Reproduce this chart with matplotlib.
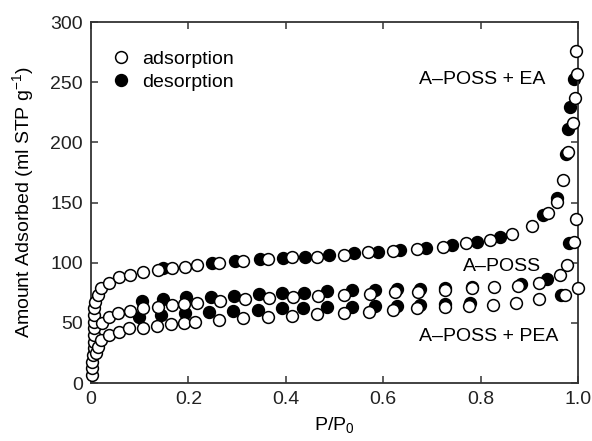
import matplotlib
matplotlib.use("Agg")
from matplotlib import pyplot as plt
from matplotlib.lines import Line2D

plt.rcParams["font.family"] = ["Liberation Sans", "DejaVu Sans"]
plt.rcParams["mathtext.fontset"] = "custom"
plt.rcParams["mathtext.rm"] = "Liberation Sans"
plt.rcParams["mathtext.it"] = "Liberation Sans"

# A-POSS + EA (top curve)
ea_ads_x = [0.003, 0.003, 0.003, 0.004, 0.006, 0.006, 0.006, 0.006, 0.006, 0.006, 0.006, 0.009,
            0.014, 0.02, 0.038, 0.058, 0.081, 0.107, 0.138, 0.166, 0.193, 0.217, 0.263, 0.313,
            0.364, 0.413, 0.465, 0.52, 0.569, 0.62, 0.669, 0.723, 0.771, 0.819, 0.864, 0.905,
            0.939, 0.956, 0.97, 0.98, 0.99, 0.994, 0.997, 0.996]
ea_ads_y = [6.6, 12.2, 17.7, 23.3, 28.8, 34.3, 39.9, 45.5, 51, 56.5, 62, 67.6,
            73.2, 78.7, 82.8, 87.8, 89.8, 92.5, 93.9, 95.6, 96.7, 97.8, 99.5, 101.4,
            102.8, 104.5, 105, 106.4, 108.6, 109.7, 111.1, 113.3, 116.1, 118.9, 123.6, 130.5,
            141, 150.7, 168.7, 192.3, 215.8, 236.7, 257, 276]
ea_des_x = [0.992, 0.984, 0.98, 0.976, 0.956, 0.929, 0.84, 0.792, 0.741, 0.687, 0.634, 0.59,
            0.54, 0.489, 0.44, 0.394, 0.347, 0.296, 0.248, 0.148]
ea_des_y = [252.4, 229, 211, 190, 153.5, 139.7, 121.1, 117.5, 114.7, 112, 110.5, 109.1,
            107.8, 106, 105, 103.6, 102.8, 101.4, 99.5, 95.3]

# A-POSS (middle curve)
ap_ads_x = [0.022, 0.038, 0.055, 0.08, 0.107, 0.137, 0.166, 0.19, 0.217, 0.265, 0.316, 0.366,
            0.415, 0.467, 0.52, 0.573, 0.624, 0.672, 0.727, 0.782, 0.828, 0.877, 0.92, 0.963,
            0.977, 0.992, 0.996]
ap_ads_y = [49.6, 55, 57.9, 60, 62, 63.4, 64.8, 65.7, 66.8, 68.4, 69.6, 70.4,
            71.2, 72.3, 73.2, 73.7, 75.9, 75.9, 77.3, 78.7, 79.5, 80.6, 83.4, 89.8,
            98, 117.5, 136]
ap_des_x = [0.982, 0.936, 0.882, 0.782, 0.727, 0.676, 0.628, 0.583, 0.535, 0.485, 0.437, 0.392,
            0.344, 0.294, 0.246, 0.195, 0.147, 0.104]
ap_des_y = [116.1, 86.3, 82.3, 79.5, 78.7, 77.9, 77.9, 77.3, 77.3, 76.5, 75, 74.5,
            73.7, 72.6, 71.7, 71.2, 69.8, 68.2]

# A-POSS + PEA (bottom curve)
pea_ads_x = [0.01, 0.014, 0.02, 0.038, 0.058, 0.079, 0.107, 0.136, 0.164, 0.19, 0.214, 0.263,
             0.313, 0.363, 0.413, 0.465, 0.52, 0.571, 0.621, 0.67, 0.726, 0.777, 0.825, 0.873,
             0.92, 0.973, 1.0]
pea_ads_y = [24.6, 30.2, 35.7, 39.9, 42.6, 45.5, 46, 47.4, 49, 50.1, 51, 52.4,
             53.8, 55.1, 56, 57.1, 57.9, 59.3, 60.7, 62, 62.9, 64, 64.8, 66.8,
             69.6, 73.2, 79.2]
pea_des_x = [0.966, 0.778, 0.727, 0.676, 0.628, 0.583, 0.535, 0.484, 0.435, 0.392, 0.342, 0.291,
             0.243, 0.193, 0.144, 0.099]
pea_des_y = [73.2, 66.2, 65.7, 64.8, 64, 64, 63.4, 62.9, 62, 62, 60.7, 59.9,
             58.8, 57.9, 56.5, 55.1]

fig = plt.figure(figsize=(5.92, 4.41), dpi=100)
ax = fig.add_axes([0.1537, 0.1315, 0.8227, 0.8186])

ms = 8.5
mew = 1.1
for dx, dy in [(ea_des_x, ea_des_y), (ap_des_x, ap_des_y), (pea_des_x, pea_des_y)]:
    ax.plot(dx, dy, "o", ms=ms, mfc="black", mec="black", mew=mew, clip_on=False, zorder=2)
for ox, oy in [(ea_ads_x, ea_ads_y), (ap_ads_x, ap_ads_y), (pea_ads_x, pea_ads_y)]:
    ax.plot(ox, oy, "o", ms=ms, mfc="white", mec="black", mew=mew, clip_on=False, zorder=3)

ax.set_xlim(0, 1.0)
ax.set_ylim(0, 300)
ax.set_xticks([0, 0.2, 0.4, 0.6, 0.8, 1.0])
ax.set_xticklabels(["0", "0.2", "0.4", "0.6", "0.8", "1.0"])
ax.set_yticks(range(0, 301, 50))
ax.tick_params(direction="in", top=True, right=True, length=5, width=1.1,
               labelsize=14, pad=6, color="#333333", labelcolor="#222222")
for s in ax.spines.values():
    s.set_linewidth(1.3)
    s.set_color("#333333")

ax.set_xlabel("P/P$_0$", fontsize=14, labelpad=5)
ax.set_ylabel("Amount Adsorbed (ml STP g$^{-1}$)", fontsize=14, labelpad=10)

ax.text(0.932, 252, "A\u2013POSS + EA", fontsize=14, ha="right", va="center")
ax.text(0.924, 97, "A\u2013POSS", fontsize=14, ha="right", va="center")
ax.text(0.96, 38.5, "A\u2013POSS + PEA", fontsize=14, ha="right", va="center")

handles = [
    Line2D([], [], ls="none", marker="o", ms=ms, mfc="white", mec="black", mew=mew),
    Line2D([], [], ls="none", marker="o", ms=ms, mfc="black", mec="black", mew=mew),
]
ax.legend(handles, ["adsorption", "desorption"], loc="upper left", frameon=False,
          fontsize=14, handletextpad=0.5, borderaxespad=0.3, labelspacing=0.3,
          bbox_to_anchor=(0.01, 0.96), handlelength=1.2)

fig.savefig("out.png", dpi=100)
